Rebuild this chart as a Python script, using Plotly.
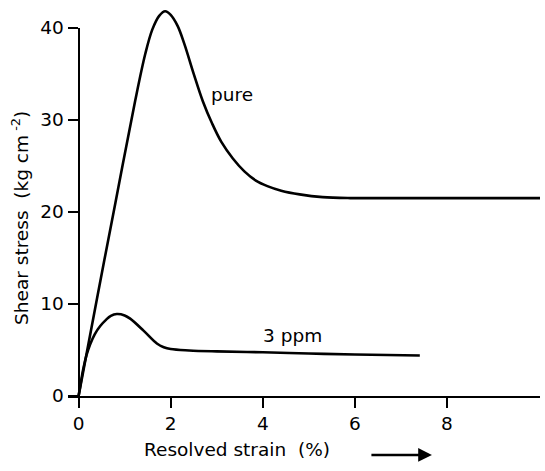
import plotly.graph_objects as go

# Data
pure_x = [0, 0.4, 0.8, 1.23, 1.45, 1.6, 1.75, 1.88, 2.0, 2.15, 2.3, 2.5, 2.7, 2.9, 3.1, 3.35, 3.6, 3.85, 4.1, 4.4, 4.8, 5.3, 5.9, 6.5, 8.0, 10.02]
pure_y = [0, 10.6, 21.0, 32.1, 37.2, 39.8, 41.3, 41.8, 41.4, 40.2, 38.2, 35.0, 32.0, 29.6, 27.6, 25.8, 24.4, 23.4, 22.8, 22.3, 21.9, 21.6, 21.5, 21.5, 21.5, 21.5]

ppm_x = [0, 0.05, 0.1, 0.17, 0.25, 0.35, 0.47, 0.6, 0.7, 0.83, 1.0, 1.12, 1.41, 1.7, 1.85, 2.0, 2.4, 3.0, 4.0, 5.0, 6.0, 7.41]
ppm_y = [0, 1.5, 2.9, 4.4, 5.6, 6.7, 7.6, 8.3, 8.7, 8.9, 8.75, 8.4, 7.1, 5.7, 5.3, 5.1, 4.95, 4.85, 4.75, 4.62, 4.5, 4.4]

x_ticks = [0, 2, 4, 6, 8]
y_ticks = [0, 10, 20, 30, 40]

FONT = "DejaVu Sans"
FS = 18.5
X_RANGE = [-0.23, 10.02]
Y_RANGE = [0, 42.8]
Y_AXIS_TOP = 40

fig = go.Figure()
line_style = dict(color="black", width=2.6, shape="spline", smoothing=1.0)
fig.add_trace(go.Scatter(x=pure_x, y=pure_y, mode="lines", line=line_style,
                         showlegend=False, hoverinfo="skip"))
fig.add_trace(go.Scatter(x=ppm_x, y=ppm_y, mode="lines", line=line_style,
                         showlegend=False, hoverinfo="skip"))
# invisible trace so the displayed y axis (y2) exists
fig.add_trace(go.Scatter(x=[0], y=[0], yaxis="y2", mode="lines", opacity=0,
                         showlegend=False, hoverinfo="skip"))

x_pos0 = (0 - X_RANGE[0]) / (X_RANGE[1] - X_RANGE[0])

fig.update_layout(
    width=545, height=471, autosize=False,
    margin=dict(l=68, r=5, t=2, b=75, autoexpand=False),
    paper_bgcolor="white", plot_bgcolor="rgba(0,0,0,0)",
    font=dict(family=FONT, size=FS, color="black"),
    xaxis=dict(range=X_RANGE, tickvals=x_ticks, showgrid=False, zeroline=False,
               showline=True, linecolor="black", linewidth=2, automargin=False,
               ticks="outside", ticklen=10, tickwidth=2, tickcolor="black",
               tickfont=dict(size=FS), fixedrange=True),
    yaxis=dict(range=Y_RANGE, visible=False, showgrid=False, zeroline=False,
               automargin=False, fixedrange=True),
    yaxis2=dict(range=[0, Y_AXIS_TOP], domain=[0, Y_AXIS_TOP / Y_RANGE[1]],
                anchor="free", position=x_pos0, side="left", automargin=False,
                tickvals=y_ticks, showgrid=False, zeroline=False,
                showline=True, linecolor="black", linewidth=2,
                ticks="outside", ticklen=10, tickwidth=2, tickcolor="black",
                tickfont=dict(size=FS), fixedrange=True),
)

fig.add_annotation(x=3.33, y=32.7, xref="x", yref="y", text="pure",
                   xanchor="center", yanchor="middle", showarrow=False, font=dict(size=FS))
fig.add_annotation(x=4.64, y=6.6, xref="x", yref="y", text="3 ppm",
                   xanchor="center", yanchor="middle", showarrow=False, font=dict(size=FS))
fig.add_annotation(x=-0.1017, y=0.452, xref="paper", yref="paper",
                   text="Shear stress  (kg cm<sup> -2</sup>)", textangle=-90,
                   xanchor="center", yanchor="middle", showarrow=False, font=dict(size=FS))
fig.add_annotation(x=0.359, y=-0.137, xref="paper", yref="paper",
                   text="Resolved strain  (%)", xanchor="center", yanchor="middle",
                   showarrow=False, font=dict(size=FS))
fig.add_annotation(x=0.771, y=-0.1497, xref="paper", yref="paper",
                   ax=-62, ay=0, text="", showarrow=True,
                   arrowhead=2, arrowsize=1.1, arrowwidth=2.5, arrowcolor="black")

fig.write_html("out.html", config={"displayModeBar": False},
               post_script="document.body.style.margin='0';document.body.style.overflow='hidden';")
